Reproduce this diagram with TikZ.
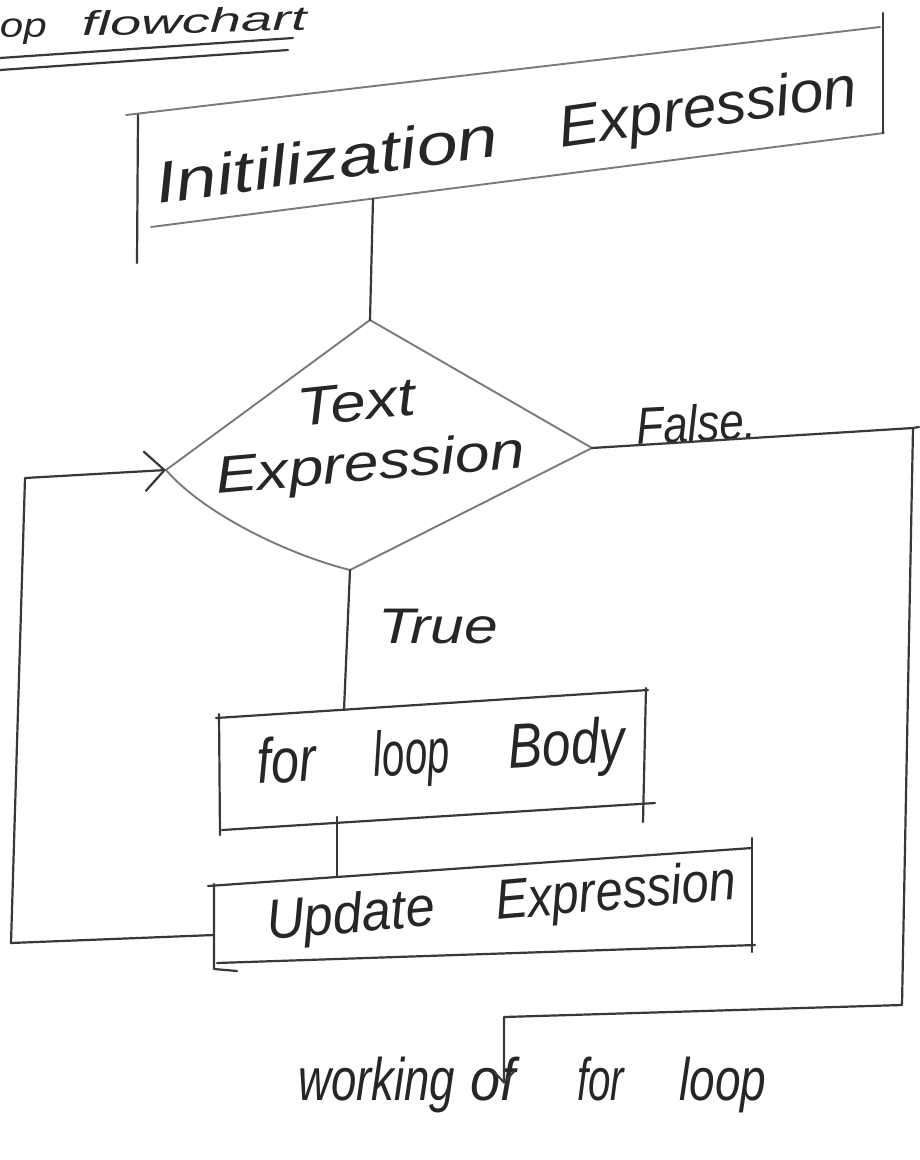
\documentclass[tikz,border=0pt]{standalone}
\usepackage{fontspec}
\setmainfont{Liberation Sans}
\usetikzlibrary{arrows.meta}
% stretch a word horizontally to a given width, keeping its height
\newcommand\hw[2]{\resizebox{#1}{\height}{#2}}
\newcommand\fs[1]{\fontsize{#1}{#1}\selectfont}
\begin{document}
\begin{tikzpicture}[x=1pt,y=-1pt,
  ink/.style={draw=black!78, line width=2.2pt, line cap=round, line join=round},
  pale/.style={draw=black!52, line width=1.9pt, line cap=round, line join=round},
  hand/.style={inner sep=0pt, text=black!85, font=\itshape, anchor=base west},
  loopbarb/.style={-{Straight Barb[length=20pt,width=40pt,line width=2.2pt]}},
  exitbarb/.style={-{Straight Barb[length=12pt,width=22pt,line width=2pt]}},
]
\useasboundingbox[fill=white] (0,0) rectangle (919,1160);

% heading with double underline
\node[hand, rotate=1.5] (title) at (0,38)
  {\fs{34}\hw{47pt}{op}\hspace{35pt}\hw{225pt}{flowchart}};
\draw[ink] (0,58) -- (293,38);
\draw[ink] (0,70) -- (288,50);

% initialization box
\draw[pale] (126,115) -- (880,27);
\draw[pale] (151,227) -- (884,133);
\draw[ink] (883,13) -- (883,133);
\draw[ink] (138,115) -- (137,263);
\node[hand, rotate=8] (initText) at (158,204)
  {\fs{58}\hw{346pt}{Initilization}\hspace{61pt}\hw{301pt}{Expression}};

% decision
\coordinate (initB) at (373,199);
\coordinate (decT) at (370,320);
\coordinate (decL) at (166,470);
\coordinate (decR) at (592,448);
\coordinate (decB) at (350,570);
\draw[pale] (decT) -- (decR) -- (decB) .. controls (290,555) and (205,515) .. (decL) -- cycle;
\node[hand, rotate=6] (testA) at (299,427) {\fs{54}\hw{118pt}{Text}};
\node[hand, rotate=5] (testB) at (217,494) {\fs{52}\hw{310pt}{Expression}};
\node[hand, rotate=3] (falseLbl) at (637,445) {\fs{52}\hw{120pt}{False.}};
\node[hand] (trueLbl) at (378,643) {\fs{50}\hw{120pt}{True}};

% loop body box
\draw[ink] (216,718) -- (648,690);
\draw[ink] (646,688) -- (643,822);
\draw[ink] (222,830) -- (655,803);
\draw[ink] (219,714) -- (220,835);
\node[hand, rotate=3.5] (bodyText) at (258,784)
  {\fs{63}\hw{59pt}{for}\hspace{58pt}\hw{76pt}{loop}\hspace{59pt}\hw{117pt}{Body}};

% update box
\draw[ink] (208,886) -- (752,848);
\draw[ink] (752,838) -- (752,952);
\draw[ink] (217,963) -- (755,945);
\draw[ink] (214,884) -- (214,969) -- (237,971);
\node[hand, rotate=5] (updText) at (268,940)
  {\fs{56}\hw{169pt}{Update}\hspace{61pt}\hw{241pt}{Expression}};

% caption
\node[hand] (caption) at (298,1100)
  {\fs{60}\hw{157pt}{working}\hspace{15pt}\hw{45pt}{of}\hspace{62pt}\hw{47pt}{for}\hspace{55pt}\hw{87pt}{loop}};

% connection points
\coordinate (bodyT) at (344,710);
\coordinate (bodyB) at (337,817);
\coordinate (updT) at (337,876);
\coordinate (updL) at (214,935);
\coordinate (loopBL) at (11,943);
\coordinate (loopTL) at (25,478);
\coordinate (falseR) at (913,428);
\coordinate (falseBR) at (902,1005);
\coordinate (exitL) at (504,1017);
\coordinate (exitEnd) at (504,1084);

% connectors
\draw[ink] (initB) -- (decT);
\draw[ink] (decB) -- (bodyT);
\draw[ink] (bodyB) -- (updT);
\draw[ink, loopbarb] (updL) -- (loopBL) -- (loopTL) -- (decL);
\draw[ink] (falseR) -- (919,427);
\draw[ink, exitbarb] (decR) -- (falseR) -- (falseBR) -- (exitL) -- (exitEnd);
\end{tikzpicture}
\end{document}
